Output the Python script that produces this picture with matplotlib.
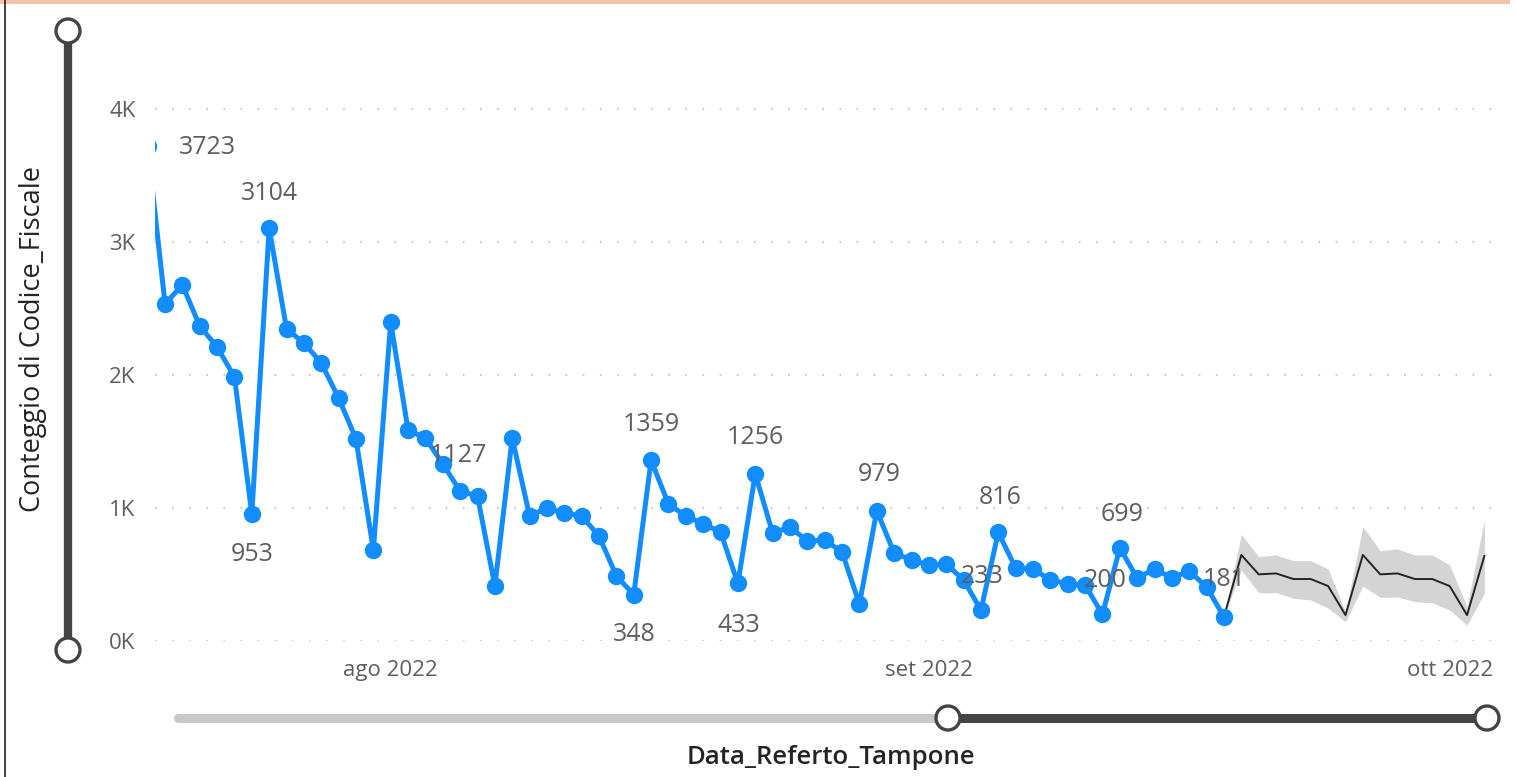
import datetime as dt
import matplotlib
matplotlib.use("Agg")
import matplotlib.pyplot as plt
import matplotlib.dates as mdates
from matplotlib.patches import Circle, Rectangle
from matplotlib.lines import Line2D

plt.rcParams["font.family"] = ["Open Sans", "DejaVu Sans"]

# daily counts, 18 Jul 2022 .. 18 Sep 2022
start = dt.date(2022, 7, 18)
counts = [3723, 2534, 2677, 2368, 2211, 1985, 953, 3104, 2346, 2241, 2090, 1827, 1519, 684,
          2398, 1586, 1526, 1331, 1127, 1090, 413, 1526, 940, 1000, 962, 940, 789, 489,
          348, 1359, 1030, 940, 880, 820, 433, 1256, 812, 857, 752, 759, 669, 278,
          979, 662, 609, 571, 579, 459, 233, 816, 549, 541, 459, 429, 421, 200,
          699, 474, 541, 474, 526, 406, 181]
dates = [start + dt.timedelta(days=i) for i in range(len(counts))]

# forecast 18 Sep .. 3 Oct
fc_start = dt.date(2022, 9, 18)
forecast = [181, 647, 501, 508, 466, 466, 413, 195, 647, 501, 508, 466, 466, 413, 195, 639]
fc_upper = [181, 802, 634, 647, 604, 604, 541, 220, 859, 679, 692, 647, 647, 571, 258, 910]
fc_lower = [181, 534, 363, 363, 321, 308, 246, 145, 413, 328, 331, 296, 288, 233, 120, 359]
fc_dates = [fc_start + dt.timedelta(days=i) for i in range(len(forecast))]

# labelled points: date -> (dx, dy) offset in pixels
labels = {
    dt.date(2022, 7, 18): (60, -2),
    dt.date(2022, 7, 24): (0, -40),
    dt.date(2022, 7, 25): (0, 35),
    dt.date(2022, 8, 5): (-2, 36),
    dt.date(2022, 8, 15): (1, -40),
    dt.date(2022, 8, 16): (0, 36),
    dt.date(2022, 8, 21): (1, -42),
    dt.date(2022, 8, 22): (0, 36),
    dt.date(2022, 8, 29): (2, 36),
    dt.date(2022, 9, 4): (1, 34),
    dt.date(2022, 9, 5): (2, 35),
    dt.date(2022, 9, 11): (3, 34),
    dt.date(2022, 9, 12): (2, 34),
    dt.date(2022, 9, 18): (0, 37),
}

W, H = 1516, 777
fig = plt.figure(figsize=(W / 100, H / 100), dpi=100)

# decoration layer in pixel coordinates
deco = fig.add_axes([0, 0, 1, 1])
deco.set_xlim(0, W)
deco.set_ylim(H, 0)
deco.axis("off")
deco.add_patch(Rectangle((0, 0), 1510, 4, color="#f4c3ac", lw=0))
deco.add_line(Line2D([5, 5], [0, H], color="#222222", lw=1.2))
dark = "#444444"
deco.add_line(Line2D([68, 68], [31, 650], color=dark, lw=6, solid_capstyle="butt"))
deco.add_line(Line2D([178, 948], [718, 718], color="#c8c8c8", lw=6.5, solid_capstyle="round"))
deco.add_line(Line2D([948, 1487], [718, 718], color=dark, lw=6.5, solid_capstyle="butt"))
for cx, cy in [(68, 31), (68, 650), (948, 718), (1487, 718)]:
    deco.add_patch(Circle((cx, cy), 12, facecolor="white", edgecolor=dark, lw=2.4, zorder=5))

fig.text(33 / W, 1 - 339 / H, "Conteggio di Codice_Fiscale", rotation=90,
         ha="center", va="center", fontsize=19.5, color="#252423")
fig.text(831 / W, 1 - 757 / H, "Data_Referto_Tampone", ha="center", va="center",
         fontsize=18.5, color="#252423", fontweight="semibold")

# main chart
x0 = mdates.date2num(dt.date(2022, 8, 1))
px_day = 17.36
ax = fig.add_axes([155 / W, 1 - 641 / H, 1345 / W, 541 / H])
ax.set_facecolor("none")
ax.set_xlim(x0 - 235.7 / px_day, x0 + 1109.3 / px_day)
ax.set_ylim(0, 541 / 133 * 1000)
for s in ax.spines.values():
    s.set_visible(False)

ax.set_yticks([0, 1000, 2000, 3000, 4000])
ax.set_yticklabels(["0K", "1K", "2K", "3K", "4K"])
ax.set_xticks([dt.date(2022, 8, 1), dt.date(2022, 9, 1), dt.date(2022, 10, 1)])
ax.set_xticklabels(["ago 2022", "set 2022", "ott 2022"])
ax.tick_params(length=0, labelsize=16, labelcolor="#605e5c")
ax.tick_params(axis="y", pad=14)
ax.tick_params(axis="x", pad=14)
ax.grid(axis="y", color="#c8c8c8", lw=1.6, linestyle=(0, (0.7, 7)))
ax.set_axisbelow(True)

ax.fill_between(fc_dates, fc_lower, fc_upper, color="#d4d4d4", lw=0, zorder=2)
ax.plot(fc_dates, forecast, color="#252423", lw=1.4, zorder=3)
ax.plot(dates, counts, color="#118dff", lw=3.6, marker="o", markersize=11.5, zorder=4)

for d, (dx, dy) in labels.items():
    v = counts[dates.index(d)]
    ax.annotate(str(v), (mdates.date2num(d), v), xytext=(dx, dy), textcoords="offset pixels",
                ha="center", va="center", fontsize=18, color="#605e5c", zorder=6,
                annotation_clip=False)

fig.savefig("out.png", dpi=100)
